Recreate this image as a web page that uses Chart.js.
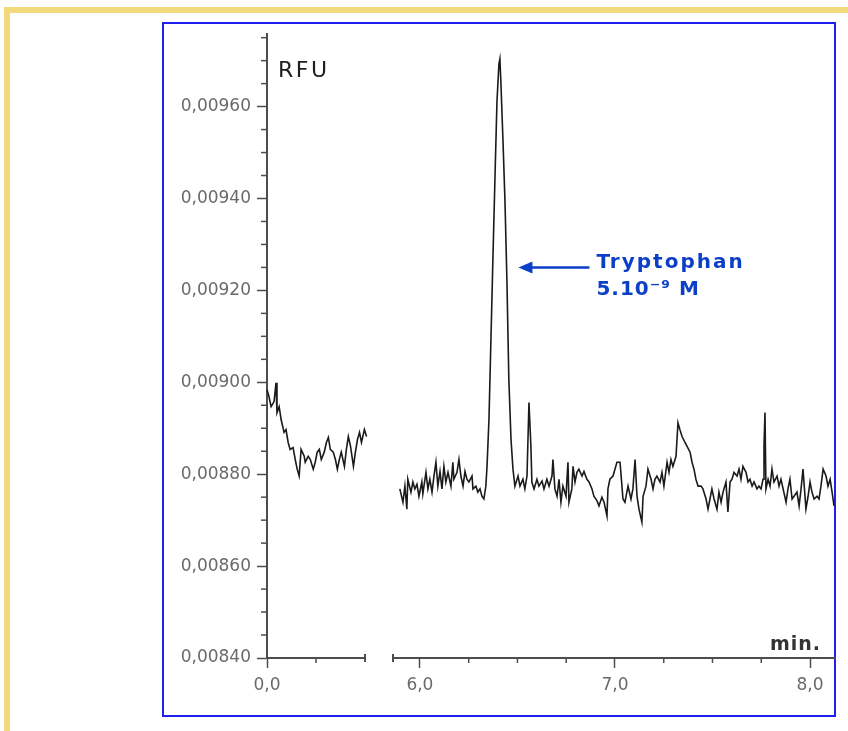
<!DOCTYPE html>
<html>
<head>
<meta charset="utf-8">
<script src="https://cdn.jsdelivr.net/npm/chart.js@4.4.1/dist/chart.umd.min.js"></script>
<style>
  html, body { margin: 0; padding: 0; background: #fff; }
  body { position: relative; width: 848px; height: 731px; overflow: hidden; }
  .frame-top { position: absolute; left: 4px; top: 7px; width: 844px; height: 6px; background: #f2d97c; }
  .frame-left { position: absolute; left: 4px; top: 7px; width: 6px; height: 724px; background: #f2d97c; }
  .box { position: absolute; left: 162px; top: 22px; width: 670px; height: 691px; border: 2px solid #1f1ff0; }
  #chartA { position: absolute; left: 162px; top: 17px; }
  #chartB { position: absolute; left: 383px; top: 17px; }
</style>
</head>
<body>
<div class="frame-top"></div>
<div class="frame-left"></div>
<div class="box"></div>
<canvas id="chartA" width="211" height="701"></canvas>
<canvas id="chartB" width="453" height="701"></canvas>
<script>
// ========== data: first segment (0 - 0.5 min) ==========
var timeA = [0.000, 0.010, 0.021, 0.036, 0.046, 0.051, 0.062, 0.072, 0.087, 0.097,
    0.108, 0.118, 0.133, 0.144, 0.154, 0.164, 0.174, 0.190, 0.195, 0.210,
    0.221, 0.236, 0.246, 0.256, 0.267, 0.277, 0.292, 0.303, 0.313, 0.323,
    0.338, 0.349, 0.359, 0.369, 0.379, 0.395, 0.405, 0.415, 0.426, 0.441,
    0.451, 0.462, 0.472, 0.482, 0.497, 0.508, 0.518];
var rfuA = [0.008984, 0.008969, 0.008947, 0.008958, 0.008999, 0.008934, 0.008947, 0.008919, 0.008891, 0.008897,
    0.008869, 0.008854, 0.008858, 0.008832, 0.008811, 0.008796, 0.008854, 0.008839, 0.008826, 0.008839,
    0.008832, 0.008811, 0.008826, 0.008848, 0.008854, 0.008832, 0.008848, 0.008869, 0.008880, 0.008854,
    0.008848, 0.008832, 0.008811, 0.008832, 0.008848, 0.008817, 0.008854, 0.008882, 0.008861, 0.008817,
    0.008848, 0.008876, 0.008891, 0.008869, 0.008897, 0.008882, 0.008925];

// ========== data: second segment (5.9 - 8.1 min) ==========
var timeB = [5.897, 5.913, 5.923, 5.933, 5.938, 5.954, 5.964, 5.974, 5.985, 5.995,
    6.010, 6.015, 6.031, 6.041, 6.051, 6.062, 6.072, 6.082, 6.092, 6.103,
    6.113, 6.123, 6.133, 6.144, 6.159, 6.169, 6.174, 6.190, 6.200, 6.210,
    6.221, 6.231, 6.241, 6.251, 6.267, 6.272, 6.287, 6.297, 6.308, 6.318,
    6.328, 6.338, 6.344, 6.354, 6.364, 6.374, 6.385, 6.395, 6.405, 6.410,
    6.415, 6.426, 6.436, 6.446, 6.456, 6.467, 6.477, 6.487, 6.503, 6.513,
    6.528, 6.538, 6.549, 6.559, 6.569, 6.574, 6.585, 6.600, 6.610, 6.626,
    6.636, 6.651, 6.662, 6.677, 6.682, 6.692, 6.703, 6.713, 6.723, 6.733,
    6.749, 6.759, 6.764, 6.779, 6.785, 6.795, 6.805, 6.815, 6.831, 6.841,
    6.856, 6.867, 6.882, 6.892, 6.908, 6.918, 6.933, 6.944, 6.959, 6.964,
    6.974, 6.990, 7.010, 7.026, 7.041, 7.051, 7.067, 7.082, 7.092, 7.103,
    7.113, 7.123, 7.138, 7.144, 7.159, 7.169, 7.185, 7.195, 7.205, 7.215,
    7.231, 7.241, 7.251, 7.267, 7.277, 7.287, 7.297, 7.313, 7.323, 7.333,
    7.344, 7.359, 7.369, 7.385, 7.395, 7.405, 7.415, 7.426, 7.441, 7.451,
    7.467, 7.477, 7.487, 7.497, 7.508, 7.523, 7.533, 7.544, 7.554, 7.569,
    7.579, 7.590, 7.600, 7.610, 7.626, 7.636, 7.646, 7.656, 7.672, 7.682,
    7.692, 7.703, 7.713, 7.728, 7.738, 7.749, 7.759, 7.764, 7.769, 7.774,
    7.785, 7.795, 7.805, 7.815, 7.831, 7.841, 7.851, 7.862, 7.877, 7.887,
    7.897, 7.908, 7.918, 7.933, 7.944, 7.954, 7.964, 7.979, 7.990, 8.000,
    8.010, 8.021, 8.036, 8.046, 8.056, 8.067, 8.082, 8.092, 8.103, 8.113,
    8.123];
var rfuB = [0.008768, 0.008739, 0.008774, 0.008724, 0.008789, 0.008761, 0.008783, 0.008768, 0.008778, 0.008752,
    0.008783, 0.008757, 0.008804, 0.008768, 0.008789, 0.008761, 0.008796, 0.008826, 0.008774, 0.008806,
    0.008768, 0.008817, 0.008783, 0.008804, 0.008774, 0.008826, 0.008789, 0.008804, 0.008832, 0.008796,
    0.008774, 0.008806, 0.008789, 0.008783, 0.008796, 0.008768, 0.008774, 0.008761, 0.008768, 0.008752,
    0.008746, 0.008774, 0.008817, 0.008919, 0.009092, 0.009265, 0.009449, 0.009611, 0.009693, 0.009704,
    0.009654, 0.009524, 0.009395, 0.009222, 0.009005, 0.008876, 0.008811, 0.008774, 0.008796, 0.008774,
    0.008789, 0.008768, 0.008796, 0.008956, 0.008861, 0.008783, 0.008768, 0.008789, 0.008774, 0.008785,
    0.008768, 0.008789, 0.008774, 0.008796, 0.008832, 0.008768, 0.008752, 0.008789, 0.008739, 0.008774,
    0.008752, 0.008826, 0.008739, 0.008768, 0.008817, 0.008783, 0.008804, 0.008811, 0.008796, 0.008806,
    0.008789, 0.008783, 0.008768, 0.008752, 0.008742, 0.008731, 0.008750, 0.008739, 0.008709, 0.008768,
    0.008789, 0.008796, 0.008826, 0.008826, 0.008746, 0.008739, 0.008774, 0.008746, 0.008768, 0.008832,
    0.008752, 0.008724, 0.008696, 0.008752, 0.008774, 0.008811, 0.008789, 0.008768, 0.008789, 0.008796,
    0.008783, 0.008804, 0.008774, 0.008826, 0.008804, 0.008832, 0.008817, 0.008839, 0.008912, 0.008897,
    0.008882, 0.008869, 0.008861, 0.008848, 0.008826, 0.008811, 0.008789, 0.008774, 0.008774, 0.008768,
    0.008746, 0.008724, 0.008746, 0.008768, 0.008746, 0.008724, 0.008761, 0.008739, 0.008761, 0.008783,
    0.008718, 0.008783, 0.008789, 0.008804, 0.008796, 0.008811, 0.008789, 0.008817, 0.008804, 0.008783,
    0.008789, 0.008774, 0.008783, 0.008768, 0.008774, 0.008768, 0.008789, 0.008861, 0.008934, 0.008768,
    0.008789, 0.008774, 0.008811, 0.008783, 0.008796, 0.008774, 0.008789, 0.008768, 0.008739, 0.008768,
    0.008789, 0.008746, 0.008752, 0.008761, 0.008731, 0.008768, 0.008811, 0.008724, 0.008752, 0.008783,
    0.008761, 0.008746, 0.008752, 0.008746, 0.008774, 0.008811, 0.008796, 0.008774, 0.008789, 0.008761,
    0.008731];

// ========== axes ==========
var rfuTicks = [0.0084, 0.0086, 0.0088, 0.0090, 0.0092, 0.0094, 0.0096];
var rfuMinor = [0.00845, 0.0085, 0.00855, 0.00865, 0.0087, 0.00875, 0.00885, 0.0089, 0.00895,
    0.00905, 0.0091, 0.00915, 0.00925, 0.0093, 0.00935, 0.00945, 0.0095, 0.00955,
    0.00965, 0.0097, 0.00975];
var timeTicksA = [0.0];
var timeMinorA = [0.25];
var timeTicksB = [6.0, 7.0, 8.0];
var timeMinorB = [6.25, 6.5, 6.75, 7.25, 7.5, 7.75];

var axisColor = '#4d4d4d';
var labelColor = '#6a6a6a';
var labelFont = { family: 'DejaVu Sans', size: 17 };
var noteBlue = '#0c3fc8';

// ========== helpers ==========
function points(ts, vs) {
    return ts.map(function(t, i) { return { x: t, y: vs[i] }; });
}

function commaFixed(v, d) {
    return Number(v).toFixed(d).replace('.', ',');
}

function line(ctx, x1, y1, x2, y2) {
    ctx.beginPath();
    ctx.moveTo(x1, y1);
    ctx.lineTo(x2, y2);
    ctx.stroke();
}

function xScale(min, max, list) {
    return {
        type: 'linear', min: min, max: max,
        afterBuildTicks: function(s) { s.ticks = list.map(function(v) { return { value: v }; }); },
        afterFit: function(s) { s.height = 60; },
        ticks: { callback: function(v) { return commaFixed(v, 1); }, color: labelColor, font: labelFont,
                 padding: 7, maxRotation: 0, autoSkip: false },
        grid: { display: true, drawOnChartArea: false, drawTicks: true, tickLength: 10, tickColor: axisColor, tickWidth: 1.5 },
        border: { display: true, color: axisColor, width: 2 }
    };
}

function yScale(show) {
    return {
        type: 'linear', min: 0.0084, max: 0.009758, display: show,
        afterBuildTicks: function(s) { s.ticks = rfuTicks.map(function(v) { return { value: v }; }); },
        afterFit: function(s) { s.width = show ? 105 : 0; },
        ticks: { callback: function(v) { return commaFixed(v, 5); }, color: labelColor, font: labelFont, padding: 6 },
        grid: { display: true, drawOnChartArea: false, drawTicks: true, tickLength: 10, tickColor: axisColor, tickWidth: 1.5 },
        border: { display: true, color: axisColor, width: 2 }
    };
}

function baseOptions(scales, pad) {
    return {
        responsive: false,
        animation: false,
        layout: { padding: pad },
        plugins: { legend: { display: false }, tooltip: { enabled: false } },
        elements: { point: { radius: 0 }, line: { tension: 0 } },
        scales: scales
    };
}

// ========== minor ticks, axis break, labels ==========
var decorA = {
    id: 'decorA',
    afterDraw: function(chart) {
        var ctx = chart.ctx, a = chart.chartArea, xs = chart.scales.x, ys = chart.scales.y;
        ctx.save();
        ctx.strokeStyle = axisColor;
        ctx.lineWidth = 1.5;
        rfuMinor.forEach(function(v) {
            var py = ys.getPixelForValue(v);
            line(ctx, a.left - 6, py, a.left, py);
        });
        timeMinorA.forEach(function(t) {
            var px = xs.getPixelForValue(t);
            line(ctx, px, a.bottom, px, a.bottom + 5);
        });
        ctx.lineWidth = 2;
        line(ctx, a.right, a.bottom - 4, a.right, a.bottom + 4);
        ctx.fillStyle = '#1e1e1e';
        ctx.font = '22px "DejaVu Sans"';
        ctx.letterSpacing = '2.5px';
        ctx.textBaseline = 'alphabetic';
        ctx.fillText('RFU', a.left + 11, a.top + 43);
        ctx.restore();
    }
};

var decorB = {
    id: 'decorB',
    afterDraw: function(chart) {
        var ctx = chart.ctx, a = chart.chartArea, xs = chart.scales.x, ys = chart.scales.y;
        ctx.save();
        ctx.strokeStyle = axisColor;
        ctx.lineWidth = 1.5;
        timeMinorB.forEach(function(t) {
            var px = xs.getPixelForValue(t);
            line(ctx, px, a.bottom, px, a.bottom + 5);
        });
        ctx.lineWidth = 2;
        line(ctx, a.left, a.bottom - 4, a.left, a.bottom + 4);

        ctx.fillStyle = '#333';
        ctx.font = 'bold 19px "DejaVu Sans"';
        ctx.letterSpacing = '1px';
        ctx.textAlign = 'right';
        ctx.fillText('min.', a.right - 14, a.bottom - 8);

        // arrow to the tryptophan peak
        var tx = xs.getPixelForValue(6.505), ty = ys.getPixelForValue(0.00925);
        ctx.strokeStyle = noteBlue;
        ctx.fillStyle = noteBlue;
        ctx.lineWidth = 2.5;
        line(ctx, tx + 12, ty, tx + 71, ty);
        ctx.beginPath();
        ctx.moveTo(tx, ty);
        ctx.lineTo(tx + 14, ty - 6);
        ctx.lineTo(tx + 14, ty + 6);
        ctx.closePath();
        ctx.fill();

        ctx.textAlign = 'left';
        ctx.font = 'bold 20px "DejaVu Sans"';
        ctx.letterSpacing = '2px';
        ctx.fillText('Tryptophan', tx + 78, ty + 1);
        ctx.letterSpacing = '1px';
        ctx.fillText('5.10\u207B\u2079 M', tx + 78, ty + 28);
        ctx.restore();
    }
};

// ========== charts ==========
new Chart(document.getElementById('chartA'), {
    type: 'line',
    data: {
        datasets: [{ data: points(timeA, rfuA), borderColor: '#1a1a1a', borderWidth: 1.6, clip: false }]
    },
    options: baseOptions({ x: xScale(0, 0.5, timeTicksA), y: yScale(true) },
                         { left: 0, right: 8, top: 17, bottom: 0 }),
    plugins: [decorA]
});

new Chart(document.getElementById('chartB'), {
    type: 'line',
    data: {
        datasets: [{ data: points(timeB, rfuB), borderColor: '#1a1a1a', borderWidth: 1.6 }]
    },
    options: baseOptions({ x: xScale(5.862, 8.128, timeTicksB), y: yScale(false) },
                         { left: 10, right: 1, top: 17, bottom: 0 }),
    plugins: [decorB]
});
</script>
</body>
</html>
